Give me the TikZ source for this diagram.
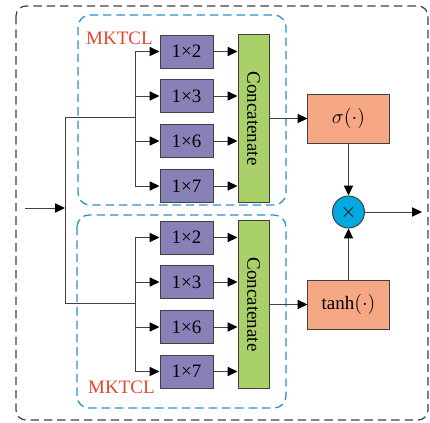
\documentclass[tikz,border=0pt]{standalone}
\usepackage{fontspec}
\setmainfont{Liberation Serif}
\usetikzlibrary{arrows.meta,calc,positioning}
\definecolor{linegray}{RGB}{64,64,64}
\definecolor{convfill}{RGB}{135,129,184}
\definecolor{catfill}{RGB}{170,208,106}
\definecolor{actfill}{RGB}{246,168,133}
\definecolor{mulfill}{RGB}{0,169,224}
\definecolor{boxblue}{RGB}{40,145,205}
\definecolor{tagred}{RGB}{232,69,44}

\begin{document}
\begin{tikzpicture}[>={Triangle[length=7pt,width=6.5pt,color=black]},x=0.025cm,y=-0.025cm,
  font=\fontsize{13.5}{16}\selectfont,line width=0.7pt,
  conv/.style={draw=linegray,fill=convfill,minimum width=1.325cm,minimum height=0.825cm,inner sep=0pt},
  cat/.style={draw=linegray,fill=catfill,minimum width=0.775cm,minimum height=4.175cm,inner sep=0pt},
  act/.style={draw=linegray,fill=actfill,minimum width=2.025cm,minimum height=1.225cm,inner sep=0pt},
  wire/.style={draw=linegray,->}]
\useasboundingbox (0,0) rectangle (430,423);
% outer block and the two MKTCL groups
\draw[linegray,line width=0.9pt,dash pattern=on 6pt off 3.5pt,rounded corners=0.25cm] (16,6) rectangle (428,420);
\draw[boxblue,line width=0.9pt,dash pattern=on 6pt off 3.5pt,rounded corners=0.3cm] (78,15) rectangle (286,205);
\draw[boxblue,line width=0.9pt,dash pattern=on 6pt off 3.5pt,rounded corners=0.3cm] (77,215) rectangle (286,408);
\node[anchor=west,text=tagred] (tagA) at (81,38) {MKTCL};
\node[anchor=west,text=tagred] (tagB) at (83,387) {MKTCL};

% upper branch
\node[conv] (a2) at (186.5,51.5) {1×2};
\node[conv] (a3) at (186.5,96) {1×3};
\node[conv] (a6) at (186.5,141) {1×6};
\node[conv] (a7) at (186.5,186) {1×7};
\node[cat] (catA) at (253.5,118.5) {\rotatebox{-90}{Concatenate}};
\node[act] (sig) at (348.5,118.5) {$\sigma(\cdot)$};

% lower branch
\node[conv] (b2) at (186.5,237.5) {1×2};
\node[conv] (b3) at (186.5,282) {1×3};
\node[conv] (b6) at (186.5,327) {1×6};
\node[conv] (b7) at (186.5,371.5) {1×7};
\node[cat] (catB) at (253.5,304.5) {\rotatebox{-90}{Concatenate}};
\node[act] (tnh) at (348.5,304.5) {tanh$(\cdot)$};

\node[circle,draw=linegray,fill=mulfill,minimum size=0.8cm,inner sep=0pt] (mul) at (348.5,212) {$\times$};

% input and split
\coordinate (in) at (25,208);
\coordinate (split) at (65,208);
\coordinate (forkA) at (135,117);
\coordinate (forkB) at (135,303);
\coordinate (out) at (422,212);
\draw[wire] (in) -- (split);
\draw[linegray] (split |- forkA) -- (split |- forkB);
\draw[linegray] (split |- forkA) -- (forkA);
\draw[linegray] (split |- forkB) -- (forkB);
\draw[linegray] (forkA |- a2) -- (forkA |- a7);
\draw[linegray] (forkB |- b2) -- (forkB |- b7);
\draw[wire] (forkA |- a2) -- (a2);
\draw[wire] (forkA |- a3) -- (a3);
\draw[wire] (forkA |- a6) -- (a6);
\draw[wire] (forkA |- a7) -- (a7);
\draw[wire] (forkB |- b2) -- (b2);
\draw[wire] (forkB |- b3) -- (b3);
\draw[wire] (forkB |- b6) -- (b6);
\draw[wire] (forkB |- b7) -- (b7);
\draw[wire] (a2) -- (a2 -| catA.west);
\draw[wire] (a3) -- (a3 -| catA.west);
\draw[wire] (a6) -- (a6 -| catA.west);
\draw[wire] (a7) -- (a7 -| catA.west);
\draw[wire] (b2) -- (b2 -| catB.west);
\draw[wire] (b3) -- (b3 -| catB.west);
\draw[wire] (b6) -- (b6 -| catB.west);
\draw[wire] (b7) -- (b7 -| catB.west);
\draw[wire] (catA) -- (sig);
\draw[wire] (catB) -- (tnh);
\draw[wire] (sig) -- (mul);
\draw[wire] (tnh) -- (mul);
\draw[wire] (mul) -- (out);
\end{tikzpicture}
\end{document}
